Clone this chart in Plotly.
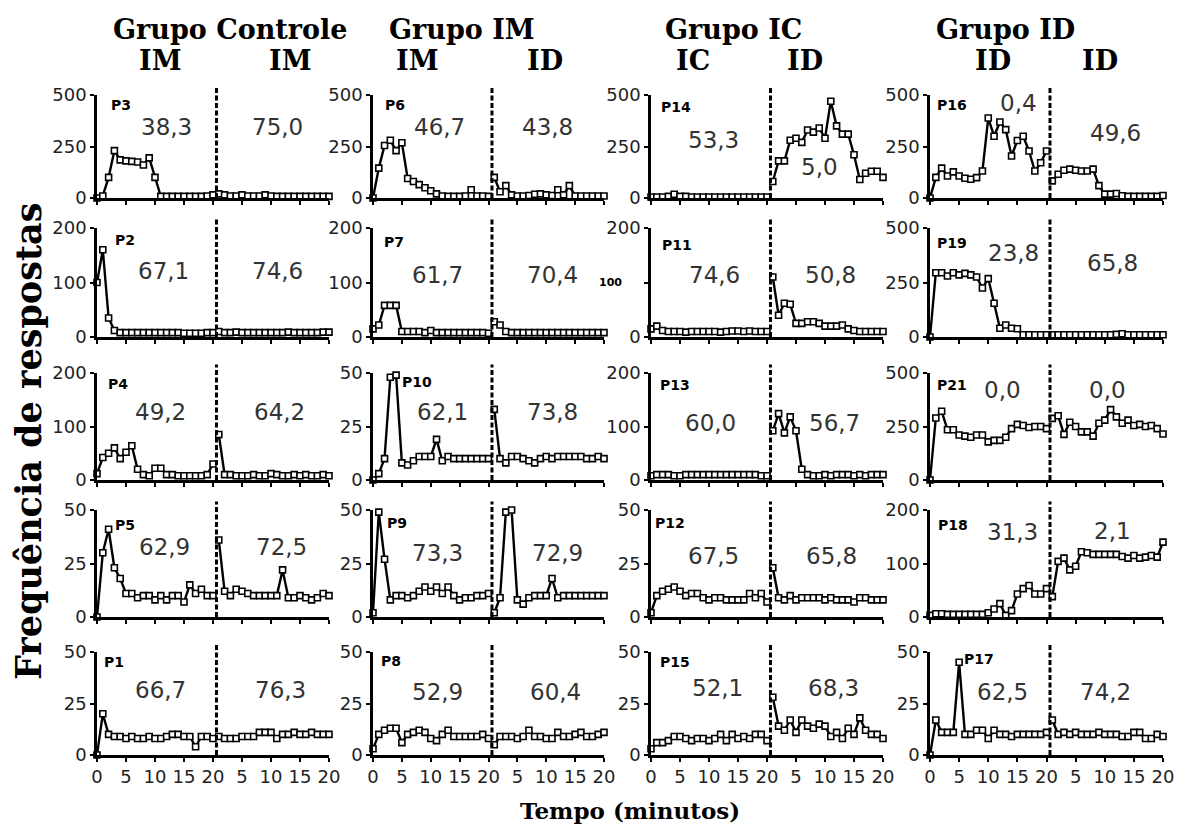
import plotly.graph_objects as go

# ---------------- data (responses per minute) ----------------
MIN_A = list(range(0, 21))   # phase 1 minutes
MIN_B = list(range(1, 21))   # phase 2 minutes

P3_A = [0, 10, 100, 230, 185, 180, 178, 175, 160, 195, 100, 8, 8, 8, 8, 8, 8, 8, 8, 10, 15]
P3_B = [20, 15, 10, 10, 15, 10, 10, 10, 15, 10, 8, 8, 8, 8, 8, 8, 8, 8, 8, 8]
P2_A = [100, 160, 35, 12, 8, 8, 8, 8, 8, 8, 8, 8, 8, 8, 8, 7, 7, 7, 7, 8, 8]
P2_B = [10, 8, 8, 9, 8, 8, 8, 8, 8, 8, 8, 8, 9, 8, 8, 8, 8, 8, 9, 9]
P4_A = [12, 42, 50, 60, 40, 52, 64, 20, 10, 8, 22, 22, 10, 10, 8, 8, 8, 8, 8, 10, 30]
P4_B = [85, 10, 10, 8, 8, 8, 10, 8, 8, 12, 10, 8, 8, 10, 8, 10, 8, 8, 10, 8]
P5_A = [0, 30, 41, 23, 18, 11, 11, 9, 10, 10, 8, 10, 8, 10, 10, 7, 15, 11, 13, 10, 10]
P5_B = [36, 12, 10, 13, 12, 11, 10, 10, 10, 10, 10, 22, 9, 9, 10, 9, 8, 9, 11, 10]
P1_A = [0, 20, 10, 9, 9, 8, 9, 8, 8, 9, 8, 8, 9, 10, 10, 9, 9, 4, 9, 9, 8]
P1_B = [9, 8, 8, 8, 9, 9, 9, 11, 11, 11, 8, 10, 10, 11, 10, 10, 11, 10, 10, 10]

P6_A = [0, 145, 255, 280, 230, 268, 95, 80, 65, 50, 35, 20, 10, 8, 8, 8, 10, 40, 10, 10, 8]
P6_B = [100, 30, 60, 15, 10, 10, 12, 18, 20, 15, 12, 40, 15, 60, 10, 10, 10, 10, 10, 10]
P7_A = [15, 22, 58, 58, 58, 10, 10, 10, 10, 8, 12, 8, 8, 8, 8, 8, 8, 8, 8, 8, 7]
P7_B = [28, 22, 10, 8, 8, 8, 8, 8, 8, 8, 8, 8, 8, 8, 8, 8, 8, 8, 8, 8]
P10_A = [0, 3, 10, 48, 49, 8, 7, 9, 11, 11, 11, 19, 9, 11, 10, 10, 10, 10, 10, 10, 10]
P10_B = [33, 10, 8, 11, 11, 10, 9, 8, 10, 11, 10, 11, 11, 11, 11, 11, 10, 10, 11, 10]
P9_A = [2, 49, 27, 8, 10, 10, 9, 10, 12, 14, 12, 14, 11, 14, 10, 8, 9, 9, 10, 10, 11]
P9_B = [2, 9, 49, 50, 8, 6, 9, 10, 10, 10, 18, 9, 10, 10, 10, 10, 10, 10, 10, 10]
P8_A = [3, 10, 12, 13, 13, 6, 10, 11, 12, 11, 8, 7, 10, 12, 9, 9, 9, 9, 9, 10, 8]
P8_B = [5, 9, 9, 9, 8, 9, 12, 9, 9, 8, 8, 11, 9, 9, 10, 11, 9, 9, 10, 11]

P14_A = [5, 5, 5, 8, 18, 8, 8, 5, 5, 5, 5, 5, 5, 5, 5, 5, 5, 5, 5, 5, 5]
P14_B = [80, 180, 180, 280, 290, 270, 330, 320, 340, 290, 470, 350, 310, 310, 210, 90, 120, 130, 130, 100]
P11_A = [15, 20, 12, 10, 10, 10, 9, 10, 10, 10, 10, 10, 9, 10, 11, 11, 10, 11, 10, 10, 10]
P11_B = [110, 40, 62, 60, 25, 25, 28, 28, 25, 20, 20, 20, 22, 15, 12, 10, 10, 10, 10, 10]
P13_A = [8, 10, 10, 10, 8, 8, 10, 10, 10, 10, 10, 10, 10, 10, 10, 10, 10, 10, 10, 8, 8]
P13_B = [92, 124, 88, 118, 92, 20, 10, 8, 8, 10, 8, 10, 10, 10, 8, 10, 8, 10, 10, 10]
P12_A = [2, 10, 12, 13, 14, 12, 10, 11, 11, 9, 8, 9, 9, 8, 8, 8, 8, 11, 9, 11, 7]
P12_B = [23, 9, 8, 10, 8, 9, 9, 9, 9, 8, 9, 8, 8, 8, 7, 9, 9, 8, 8, 8]
P15_A = [3, 6, 6, 7, 9, 9, 8, 7, 8, 8, 7, 8, 10, 7, 10, 8, 9, 8, 10, 10, 7]
P15_B = [28, 14, 12, 17, 11, 17, 14, 13, 15, 14, 9, 11, 8, 13, 10, 18, 12, 10, 10, 8]

P16_A = [0, 100, 145, 107, 127, 107, 96, 91, 99, 131, 388, 300, 369, 332, 204, 279, 300, 228, 131, 171, 228]
P16_B = [83, 115, 135, 140, 135, 131, 131, 140, 60, 19, 19, 22, 11, 8, 8, 8, 8, 8, 8, 12]
P19_A = [0, 295, 295, 280, 295, 285, 292, 285, 275, 225, 268, 155, 40, 55, 40, 38, 10, 10, 10, 10, 10]
P19_B = [10, 10, 10, 10, 10, 10, 10, 10, 10, 10, 10, 12, 15, 10, 10, 10, 10, 10, 10, 10]
P21_A = [0, 290, 321, 235, 235, 210, 205, 200, 210, 210, 178, 185, 185, 200, 240, 260, 255, 245, 250, 250, 240]
P21_B = [288, 300, 213, 270, 250, 225, 225, 205, 265, 280, 329, 295, 265, 280, 255, 260, 250, 255, 240, 215]
P18_A = [3, 6, 6, 5, 5, 5, 5, 5, 5, 5, 8, 15, 25, 3, 12, 43, 53, 59, 43, 43, 53]
P18_B = [38, 104, 110, 88, 95, 122, 120, 117, 117, 117, 117, 117, 113, 110, 115, 110, 112, 115, 112, 140]
P17_A = [0, 17, 11, 11, 11, 45, 10, 10, 12, 12, 8, 12, 10, 10, 9, 10, 10, 10, 10, 10, 11]
P17_B = [17, 10, 11, 10, 11, 10, 10, 10, 11, 10, 10, 10, 9, 9, 11, 11, 8, 8, 10, 9]

# percentages (phase 1, phase 2)
PCT = {
    "P3": ("38,3", "75,0"), "P6": ("46,7", "43,8"), "P14": ("53,3", "5,0"), "P16": ("0,4", "49,6"),
    "P2": ("67,1", "74,6"), "P7": ("61,7", "70,4"), "P11": ("74,6", "50,8"), "P19": ("23,8", "65,8"),
    "P4": ("49,2", "64,2"), "P10": ("62,1", "73,8"), "P13": ("60,0", "56,7"), "P21": ("0,0", "0,0"),
    "P5": ("62,9", "72,5"), "P9": ("73,3", "72,9"), "P12": ("67,5", "65,8"), "P18": ("31,3", "2,1"),
    "P1": ("66,7", "76,3"), "P8": ("52,9", "60,4"), "P15": ("52,1", "68,3"), "P17": ("62,5", "74,2"),
}

GRID = [["P3", "P6", "P14", "P16"],
        ["P2", "P7", "P11", "P19"],
        ["P4", "P10", "P13", "P21"],
        ["P5", "P9", "P12", "P18"],
        ["P1", "P8", "P15", "P17"]]
YMAX = [[500, 500, 500, 500],
        [200, 200, 200, 500],
        [200, 50, 200, 500],
        [50, 50, 50, 200],
        [50, 50, 50, 50]]

SERIES = {
    "P3": (P3_A, P3_B), "P2": (P2_A, P2_B), "P4": (P4_A, P4_B), "P5": (P5_A, P5_B), "P1": (P1_A, P1_B),
    "P6": (P6_A, P6_B), "P7": (P7_A, P7_B), "P10": (P10_A, P10_B), "P9": (P9_A, P9_B), "P8": (P8_A, P8_B),
    "P14": (P14_A, P14_B), "P11": (P11_A, P11_B), "P13": (P13_A, P13_B), "P12": (P12_A, P12_B), "P15": (P15_A, P15_B),
    "P16": (P16_A, P16_B), "P19": (P19_A, P19_B), "P21": (P21_A, P21_B), "P18": (P18_A, P18_B), "P17": (P17_A, P17_B),
}

X_TICKVALS = [0, 5, 10, 15, 20, 25, 30, 35, 40]
X_TICKTEXT = ["0", "5", "10", "15", "20", "5", "10", "15", "20"]

# ---------------- layout / style ----------------
# page pixel positions; the page body adds an 8 px margin, so subtract OFF
OFF = 8
W, H = 1185 - 2 * OFF, 830 - OFF
COLS_PX = [(97, 329), (373, 604), (651, 883), (930, 1163)]
ROWS_PX = [(95, 198), (228, 337), (373, 480), (510, 617), (652, 755)]
PHASE_SHIFT = 20
DASH_X = 20.6


def fx(px):
    return (px - OFF) / W


def fy(py):
    return 1 - (py - OFF) / H


# annotation placement: (label x, label yfrac, num1 x, num1 yfrac, num2 x, num2 yfrac)
POS = {
    "P3": (2.0, 0.90, 12.0, 0.69, 31.2, 0.69), "P6": (1.7, 0.90, 11.6, 0.69, 30.2, 0.69),
    "P14": (1.4, 0.88, 10.7, 0.56, 29.1, 0.30), "P16": (0.9, 0.90, 15.2, 0.92, 31.9, 0.63),
    "P2": (2.8, 0.89, 11.4, 0.61, 31.2, 0.61), "P7": (1.6, 0.87, 11.2, 0.57, 31.0, 0.57),
    "P11": (1.5, 0.84, 11.0, 0.57, 30.9, 0.57), "P19": (0.9, 0.86, 14.3, 0.77, 31.4, 0.68),
    "P4": (1.5, 0.90, 10.9, 0.64, 31.5, 0.64), "P10": (4.7, 0.92, 12.1, 0.64, 31.0, 0.64),
    "P13": (1.2, 0.89, 10.2, 0.53, 31.7, 0.53), "P21": (0.9, 0.89, 12.4, 0.84, 30.5, 0.84),
    "P5": (2.8, 0.86, 11.7, 0.65, 31.8, 0.65), "P9": (2.1, 0.88, 11.2, 0.60, 32.0, 0.60),
    "P12": (0.3, 0.88, 10.7, 0.57, 31.2, 0.57), "P18": (1.0, 0.86, 14.1, 0.79, 31.4, 0.80),
    "P1": (0.9, 0.90, 10.9, 0.63, 31.6, 0.63), "P8": (1.0, 0.91, 11.2, 0.61, 31.6, 0.61),
    "P15": (1.2, 0.90, 11.4, 0.65, 31.4, 0.65), "P17": (5.5, 0.93, 12.4, 0.61, 30.2, 0.61),
}

TICK_FONT = dict(family="DejaVu Sans", size=18, color="#222222")
NUM_FONT = dict(family="DejaVu Sans", size=23, color="#333333")
LBL_FONT = dict(family="DejaVu Sans", size=14, color="black")
TITLE_FONT = dict(family="DejaVu Serif", size=27, color="black")

fig = go.Figure()
annotations = []
shapes = []
layout_axes = {}

for r in range(5):
    for c in range(4):
        idx = r * 4 + c + 1
        name = GRID[r][c]
        ya_, yb_ = SERIES[name]
        ymax = YMAX[r][c]
        xname = "x" if idx == 1 else f"x{idx}"
        yname = "y" if idx == 1 else f"y{idx}"
        for mins, vals, shift in ((MIN_A, ya_, 0), (MIN_B, yb_, PHASE_SHIFT)):
            fig.add_trace(go.Scatter(
                x=[m + shift for m in mins], y=vals, xaxis=xname, yaxis=yname,
                mode="lines+markers", cliponaxis=False, showlegend=False,
                line=dict(color="black", width=2.4),
                marker=dict(symbol="square", size=6, color="white",
                            line=dict(color="black", width=1.6)),
            ))
        l, rr = COLS_PX[c]
        t, b = ROWS_PX[r]
        layout_axes[f"xaxis{'' if idx == 1 else idx}"] = dict(
            domain=[fx(l), fx(rr)], range=[0, 40], anchor=yname, automargin=False,
            showline=True, linecolor="black", linewidth=2.5,
            ticks="outside", ticklen=4, tickwidth=2, tickcolor="black",
            tickvals=X_TICKVALS, ticktext=X_TICKTEXT, showticklabels=(r == 4),
            tickfont=TICK_FONT, showgrid=False, zeroline=False,
        )
        ytext = [str(0), str(ymax // 2), str(ymax)]
        if name == "P11":
            ytext[1] = ""
        layout_axes[f"yaxis{'' if idx == 1 else idx}"] = dict(
            domain=[fy(b), fy(t)], range=[0, ymax], anchor=xname, automargin=False,
            showline=True, linecolor="black", linewidth=2.5,
            ticks="outside", ticklen=4, tickwidth=2, tickcolor="black",
            tickvals=[0, ymax / 2, ymax], ticktext=ytext,
            tickfont=TICK_FONT, showgrid=False, zeroline=False,
        )
        shapes.append(dict(type="line", xref=xname, yref=f"{yname} domain",
                           x0=DASH_X, x1=DASH_X, y0=0, y1=1.08,
                           line=dict(color="black", width=3, dash="5px,2.5px")))
        lx, ly, n1x, n1y, n2x, n2y = POS[name]
        annotations.append(dict(text=f"<b>{name}</b>", x=lx, y=ly, xref=xname, yref=f"{yname} domain",
                                xanchor="left", yanchor="middle", showarrow=False, font=LBL_FONT))
        p1, p2 = PCT[name]
        annotations.append(dict(text=p1, x=n1x, y=n1y, xref=xname, yref=f"{yname} domain",
                                xanchor="center", yanchor="middle", showarrow=False, font=NUM_FONT))
        annotations.append(dict(text=p2, x=n2x, y=n2y, xref=xname, yref=f"{yname} domain",
                                xanchor="center", yanchor="middle", showarrow=False, font=NUM_FONT))
        if name == "P11":
            annotations.append(dict(text="<b>100</b>", x=fx(624), y=0.5, xref="paper", yref=f"{yname} domain",
                                    xanchor="right", yanchor="middle", showarrow=False,
                                    font=dict(family="DejaVu Sans", size=11, color="black")))

# column headers
HEADERS = [("Grupo Controle", 230), ("Grupo IM", 462), ("Grupo IC", 733), ("Grupo ID", 1005)]
SUBHEADERS = [("IM", 160), ("IM", 290), ("IM", 418), ("ID", 545),
              ("IC", 693), ("ID", 805), ("ID", 993), ("ID", 1100)]
for txt, px in HEADERS:
    annotations.append(dict(text=f"<b>{txt}</b>", x=fx(px), y=fy(30), xref="paper", yref="paper",
                            xanchor="center", yanchor="middle", showarrow=False, font=TITLE_FONT))
for txt, px in SUBHEADERS:
    annotations.append(dict(text=f"<b>{txt}</b>", x=fx(px), y=fy(60), xref="paper", yref="paper",
                            xanchor="center", yanchor="middle", showarrow=False, font=TITLE_FONT))

annotations.append(dict(text="<b>Frequência de respostas</b>", x=fx(28), y=fy(442),
                        xref="paper", yref="paper", textangle=-90, xanchor="center", yanchor="middle",
                        showarrow=False, font=dict(family="DejaVu Serif", size=35, color="black")))
annotations.append(dict(text="<b>Tempo (minutos)</b>", x=fx(630), y=fy(810),
                        xref="paper", yref="paper", xanchor="center", yanchor="middle",
                        showarrow=False, font=dict(family="DejaVu Serif", size=23, color="black")))

fig.update_layout(
    width=W, height=H, margin=dict(l=0, r=0, t=0, b=0, pad=0, autoexpand=False),
    paper_bgcolor="white", plot_bgcolor="white",
    annotations=annotations, shapes=shapes, **layout_axes,
)

fig.write_html("out.html")
